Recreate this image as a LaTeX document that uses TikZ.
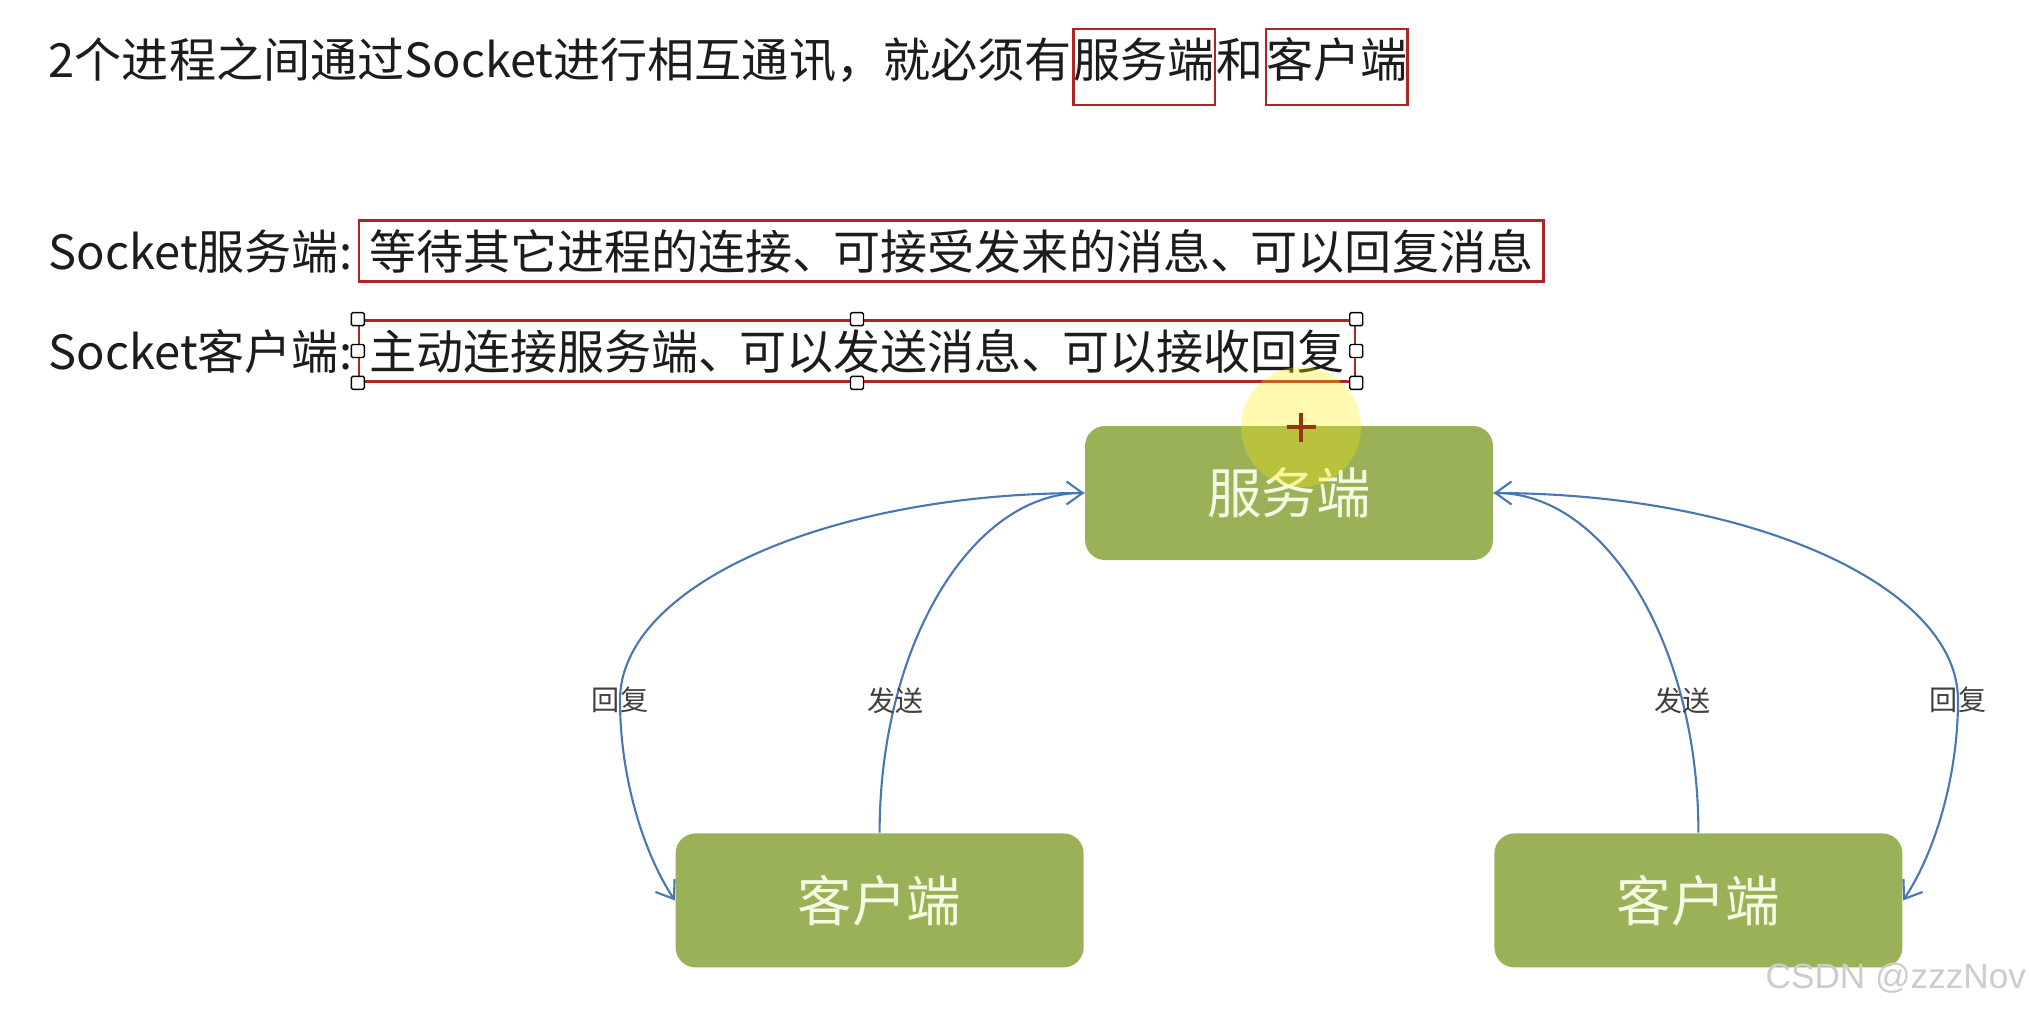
\documentclass[tikz,border=0pt]{standalone}
\usepackage{fontspec}
\setmainfont{Noto Sans CJK SC}
\newfontfamily\markfont{Liberation Sans}
\usepackage{tikz}
\usetikzlibrary{
  arrows.meta,
  positioning
}
\definecolor{boxgreen}{RGB}{155,177,88}
\definecolor{boxtext}{RGB}{246,250,226}
\definecolor{framered}{RGB}{172,38,38}
\definecolor{linkblue}{RGB}{74,118,178}
\definecolor{labelgray}{RGB}{64,64,64}
\definecolor{inkblack}{RGB}{28,28,28}
\definecolor{hiyellow}{RGB}{255,236,0}
\definecolor{cursorred}{RGB}{150,52,14}
\newcommand{\dun}{、\kern-0.14em}

\begin{document}
\begin{tikzpicture}[
  line/.style={
    inner sep=0pt, anchor=base west, text=inkblack,
    font=\fontsize{13.4pt}{16pt}\selectfont,
  },
  frame/.style={line, draw=framered, line width=0.75pt},
  wordframe/.style={frame, text height=0.43cm, text depth=0.23cm, inner ysep=0.05cm},
  textframe/.style={frame, inner xsep=0.1cm, minimum height=0.61cm},
  handle/.style={
    draw=black, fill=white, rounded corners=0.4pt, line width=0.4pt,
    minimum width=0.13cm, minimum height=0.13cm, inner sep=0pt,
  },
  box/.style={
    fill=boxgreen, rounded corners=0.2cm, minimum width=4.08cm, minimum height=1.34cm,
    text=boxtext, font=\fontsize{15.5pt}{18pt}\selectfont,
  },
  link/.style={draw=linkblue, line width=0.6pt, -{Straight Barb[length=1.6mm, width=2.3mm]}},
  tag/.style={text=labelgray, font=\fontsize{8pt}{10pt}\selectfont, inner sep=0pt},
]
\useasboundingbox (0,0) rectangle (20.29,-10.10);

% heading line
\node[line] (intro) at (0.48,-0.77) {2个进程之间通过Socket进行相互通讯，就必须有};
\node[wordframe] (srvword) at (intro.base east) {服务端};
\node[line] (andword) at (srvword.base east) {和};
\node[wordframe] (cliword) at (andword.base east) {客户端};

% the two roles
\node[line] (srvhead) at (0.48,-2.69) {Socket服务端:};
\node[textframe] (srvdesc) at ([xshift=0.05cm]srvhead.base east) {等待其它进程的连接\dun 可接受发来的消息\dun 可以回复消息};
\node[line] (clihead) at (0.48,-3.69) {Socket客户端:};
\node[textframe] (clidesc) at ([xshift=0.05cm]clihead.base east) {主动连接服务端\dun 可以发送消息\dun 可以接收回复};

% selection handles
\foreach \a/\n in {north west/nw, north/n, north east/ne, west/w, east/e, south west/sw, south/s, south east/se}
  \node[handle] (h\n) at (clidesc.\a) {};

\node[box] (srv) at (12.89,-4.93) {服务端};
\node[box, below left=2.72cm and 0cm of srv.south west] (cl1) {客户端};
\node[box, below right=2.72cm and 0cm of srv.south east] (cl2) {客户端};

% pointer highlight
\coordinate (cur) at (13.01,-4.27);
\fill[hiyellow, fill opacity=0.3] (cur) circle (0.6);
\draw[cursorred, line width=1pt] (cur) ++(-0.145,0) -- ++(0.29,0) (cur) ++(0,-0.145) -- ++(0,0.29);

\coordinate (turnL) at (6.20,-7.00);
\coordinate (turnR) at (19.58,-7.00);

\draw[link] (cl1.north) .. controls +(0,1.87) and +(-1.13,0) .. node[tag, pos=0.25] (sendL) {发送} (srv.west);
\draw[link] (srv.west) .. controls +(-2.57,0) and +(0,1.14) .. (turnL) node[tag] (replyL) {回复}
  .. controls +(0,-0.8) and +(-0.30,0.45) .. (cl1.west);
\draw[link] (cl2.north) .. controls +(0,1.87) and +(1.13,0) .. node[tag, pos=0.25] (sendR) {发送} (srv.east);
\draw[link] (srv.east) .. controls +(2.57,0) and +(0,1.14) .. (turnR) node[tag] (replyR) {回复}
  .. controls +(0,-0.8) and +(0.30,0.45) .. (cl2.east);

\node[anchor=base west, inner sep=0pt, text=gray!40, font=\markfont\fontsize{10pt}{12pt}\selectfont] (mark) at (17.65,-9.88) {CSDN @zzzNov};

\end{tikzpicture}
\end{document}
